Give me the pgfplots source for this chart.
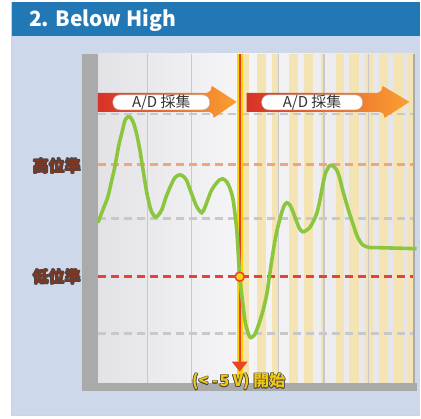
\documentclass[border=0pt]{standalone}
\usepackage{fontspec}
\setmainfont{Noto Sans CJK TC}
\usepackage{pgfplots}
\pgfplotsset{compat=1.18}
\definecolor{hdrblue}{RGB}{34,119,181}
\definecolor{panelblue}{RGB}{205,217,235}
\definecolor{framegray}{RGB}{170,170,170}
\definecolor{gridgray}{RGB}{200,200,204}
\definecolor{dashgray}{RGB}{200,200,200}
\definecolor{hiorange}{RGB}{240,165,125}
\definecolor{lored}{RGB}{232,65,58}
\definecolor{curvegreen}{RGB}{140,198,63}
\definecolor{stripetan}{RGB}{244,228,180}
\definecolor{labelbrown}{RGB}{125,55,35}
\definecolor{labeldark}{RGB}{70,70,70}
\definecolor{startyellow}{RGB}{240,200,20}
\definecolor{bannerred}{RGB}{215,50,40}
\definecolor{bannerorange}{RGB}{250,160,50}
\definecolor{vyellow}{RGB}{255,212,0}
\definecolor{vred}{RGB}{232,60,40}

% text with a dark rim
\newcommand\outl[3]{%
  \rlap{\hspace{-0.7pt}\textcolor{#2}{#3}}%
  \rlap{\hspace{0.7pt}\textcolor{#2}{#3}}%
  \rlap{\raisebox{0.7pt}{\textcolor{#2}{#3}}}%
  \rlap{\raisebox{-0.7pt}{\textcolor{#2}{#3}}}%
  \rlap{\hspace{-0.5pt}\raisebox{0.5pt}{\textcolor{#2}{#3}}}%
  \rlap{\hspace{0.5pt}\raisebox{0.5pt}{\textcolor{#2}{#3}}}%
  \rlap{\hspace{-0.5pt}\raisebox{-0.5pt}{\textcolor{#2}{#3}}}%
  \rlap{\hspace{0.5pt}\raisebox{-0.5pt}{\textcolor{#2}{#3}}}%
  \textcolor{#1}{#3}}

\begin{document}
\begin{tikzpicture}
\begin{axis}[
  scale only axis, width=316pt, height=329pt,
  xmin=98, xmax=414, ymin=54, ymax=383, y dir=reverse,
  hide axis, clip=false,
]
% page and panel
\fill[white] (0,0) rectangle (421,419);
\fill[panelblue] (12,36) rectangle (421,415);
\draw[gray!35, line width=1pt] (11.5,2) -- (11.5,416);
\draw[gray!35, line width=1pt] (11.5,416) -- (421,416);
\fill[hdrblue] (12,2) rectangle (421,36);
\node[anchor=base west, inner sep=0pt, text=white, font=\fontsize{21}{24}\selectfont\bfseries] at (29,27) {2. Below High};

% plot area
\shade[left color={rgb,255:red,227;green,227;blue,231}, right color={rgb,255:red,245;green,245;blue,247}] (98,54) rectangle (237,383);
\shade[left color={rgb,255:red,246;green,246;blue,247}, right color={rgb,255:red,228;green,228;blue,232}] (237,54) rectangle (414,383);
\fill[stripetan] (243,54) rectangle (249,383);
\fill[stripetan] (257,54) rectangle (266,383);
\fill[stripetan] (272,54) rectangle (279,383);
\fill[stripetan] (289,54) rectangle (298,383);
\fill[stripetan] (304,54) rectangle (313,383);
\fill[stripetan] (321,54) rectangle (324,383);
\fill[stripetan] (336,54) rectangle (344,383);
\fill[stripetan] (349,54) rectangle (359,383);
\fill[stripetan] (365,54) rectangle (373,383);
\fill[stripetan] (379,54) rectangle (388,383);
\fill[stripetan] (393,54) rectangle (403,383);
\fill[stripetan] (408,54) rectangle (413,383);

% vertical grid
\draw[gridgray, line width=1.3pt] (148,54) -- (148,383);
\draw[gridgray, line width=1.3pt] (192,54) -- (192,383);
\draw[gridgray, line width=1.3pt] (279,54) -- (279,383);
\draw[gridgray, line width=1.3pt] (324.5,54) -- (324.5,383);
\draw[gridgray, line width=1.3pt] (369,54) -- (369,383);

% levels
\draw[dashgray, line width=2.5pt, dash pattern=on 8pt off 5pt] (98,114) -- (414,114);
\draw[hiorange, line width=3pt, dash pattern=on 8pt off 5pt] (98,165) -- (414,165);
\draw[dashgray, line width=2.5pt, dash pattern=on 8pt off 5pt] (98,219) -- (414,219);
\draw[lored, line width=3pt, dash pattern=on 8pt off 5pt] (98,277) -- (414,277);
\draw[dashgray, line width=2.5pt, dash pattern=on 8pt off 5pt] (98,334) -- (414,334);

% frame
\fill[framegray] (82,54) rectangle (98,391);
\fill[framegray] (82,383) rectangle (417,391);
\fill[framegray] (413,54) rectangle (415,383);

% A/D banners
\shade[left color=bannerred, right color=bannerorange] (98,93) -- (207,93) .. controls (211,92) and (212,89) .. (212,86) -- (237,102) -- (214,118) .. controls (214,115) and (213,113) .. (209,112) -- (98,112) -- cycle;
\filldraw[fill=white, draw=gray!60, line width=0.5pt, rounded corners=7pt] (113,95) rectangle (210,110);
\node[font=\fontsize{15}{17}\selectfont, text=black!80] at (161.5,102.5) {A/D 採集};
\shade[left color=bannerred, right color=bannerorange] (247,93) -- (378,93) .. controls (382,92) and (383,89) .. (383,86) -- (410,102) -- (385,118) .. controls (385,115) and (384,113) .. (380,112) -- (247,112) -- cycle;
\filldraw[fill=white, draw=gray!60, line width=0.5pt, rounded corners=7pt] (262,95) rectangle (363,110);
\node[font=\fontsize{15}{17}\selectfont, text=black!80] at (312.5,102.5) {A/D 採集};

% trigger line
\draw[vyellow, line width=6pt] (240,54) -- (240,380);
\draw[vred, line width=2.4pt] (240,54) -- (240,364);
\fill[vred!85!orange] (232,362) -- (248,362) -- (240,372) -- cycle;

% signal
\addplot[curvegreen, line width=3.6pt, smooth, tension=0.5] coordinates {
(98,223)(103,210)(108,197)(112,180)(115,167)(119,145)(122,133)(125,121)(128,117)(131,118)(134,124)(137,135)(140,150)(144,175)(147,193)(151,210)(155,217)(158,216)(162,210)(166,198)(170,188)(175,178)(180,175)(184,177)(187,181)(190,189)(193,197)(197,207)(202,213)(205,208)(208,200)(212,190)(217,183)(220,180)(223,179)(227,182)(230,188)(233,198)(235,212)(237,230)(238,245)(240,277)(242,295)(244,312)(246,325)(249,335)(251,338)(255,335)(259,325)(263,312)(267,295)(270,275)(273,255)(276,237)(280,220)(284,207)(287,203)(290,205)(293,211)(297,222)(300,229)(303,232)(306,231)(310,228)(314,221)(317,214)(320,202)(323,186)(326,173)(330,166)(333,166)(337,170)(340,178)(343,190)(347,204)(350,214)(354,226)(357,235)(360,241)(363,245)(367,247)(372,248)(380,248)(417,249)
};
\filldraw[fill=vyellow, draw=lored, line width=1.5pt] (240,277) circle[radius=4.5pt];

% labels
\node[anchor=east, inner sep=0pt, font=\fontsize{16}{18}\selectfont\bfseries] at (81,166) {\outl{labelbrown}{labeldark}{高位準}};
\node[anchor=east, inner sep=0pt, font=\fontsize{16}{18}\selectfont\bfseries] at (81,277) {\outl{labelbrown}{labeldark}{低位準}};
\node[inner sep=0pt, font=\fontsize{16}{18}\selectfont\bfseries] at (239,382) {\outl{startyellow}{labeldark}{(< -\kern1.5pt5 V) 開始}};
\end{axis}
\end{tikzpicture}
\end{document}
